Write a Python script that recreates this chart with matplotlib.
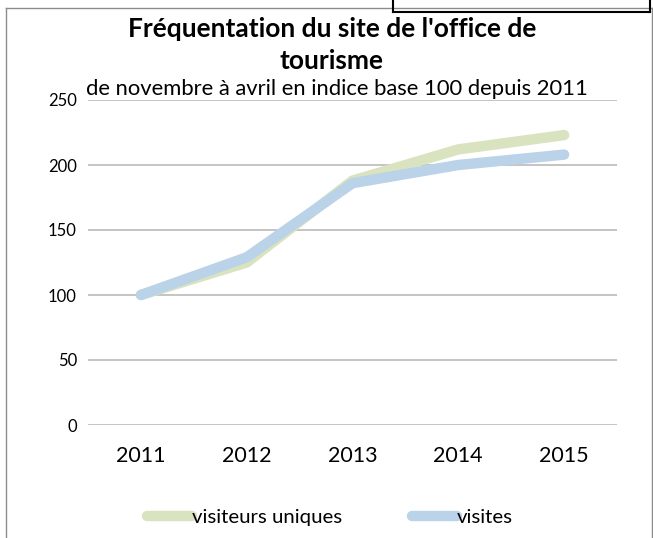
import matplotlib.pyplot as plt
from matplotlib.lines import Line2D

years = ["2011", "2012", "2013", "2014", "2015"]
visiteurs_uniques = [100, 125, 188, 212, 223]
visites = [100, 129, 186, 200, 208]
y_ticks = [0, 50, 100, 150, 200, 250]

W, H = 653, 538
plt.rcParams["font.family"] = ["Lato", "DejaVu Sans"]

fig = plt.figure(figsize=(W / 100, H / 100), dpi=100)
ax = fig.add_axes([88 / W, 1 - 425 / H, (617 - 88) / W, 325 / H])

x = range(len(years))
ax.plot(x, visiteurs_uniques, color="#d9e3bf", lw=7.5, solid_capstyle="round",
        solid_joinstyle="round", label="visiteurs uniques", zorder=3)
ax.plot(x, visites, color="#bad3e8", lw=7.5, solid_capstyle="round",
        solid_joinstyle="round", label="visites", zorder=4)

ax.set_xlim(-0.5, len(years) - 0.5)
ax.set_ylim(0, 250)
ax.set_yticks(y_ticks)
ax.set_xticks(list(x))
ax.set_xticklabels(years)
ax.yaxis.grid(True, color="#bfbfbf", lw=1.3)
ax.set_axisbelow(True)
for s in ax.spines.values():
    s.set_visible(False)
ax.tick_params(axis="both", length=0, colors="#000000")
ax.tick_params(axis="y", labelsize=12, pad=8)
ax.tick_params(axis="x", labelsize=15.5, pad=15)

fig.text(332 / W, 1 - 29 / H, "Fréquentation du site de l'office de",
         ha="center", va="center", fontsize=19, fontweight="bold")
fig.text(332 / W, 1 - 61 / H, "tourisme",
         ha="center", va="center", fontsize=19, fontweight="bold")
fig.text(337 / W, 1 - 89 / H, "de novembre à avril en indice base 100 depuis 2011",
         ha="center", va="center", fontsize=15.8)

fig.legend(loc="center", bbox_to_anchor=(330 / W, 1 - 517 / H), ncol=2,
           frameon=False, fontsize=14.7, handlelength=2.2, handletextpad=0.0,
           columnspacing=3.4)

# chart frame and the box corner at the top right
fig.add_artist(Line2D([6 / W, 6 / W], [0, 1 - 8 / H], color="#8c8c8c", lw=1))
fig.add_artist(Line2D([6 / W, 652 / W], [1 - 8 / H, 1 - 8 / H], color="#8c8c8c", lw=1))
fig.add_artist(Line2D([652 / W, 652 / W], [0, 1 - 8 / H], color="#8c8c8c", lw=1))
fig.add_artist(Line2D([393 / W, 650 / W], [1 - 12 / H, 1 - 12 / H], color="black", lw=1.5))
fig.add_artist(Line2D([393 / W, 393 / W], [1 - 12 / H, 1], color="black", lw=1.5))
fig.add_artist(Line2D([650 / W, 650 / W], [1 - 12 / H, 1], color="black", lw=1.5))

fig.savefig("out.png", dpi=100)
